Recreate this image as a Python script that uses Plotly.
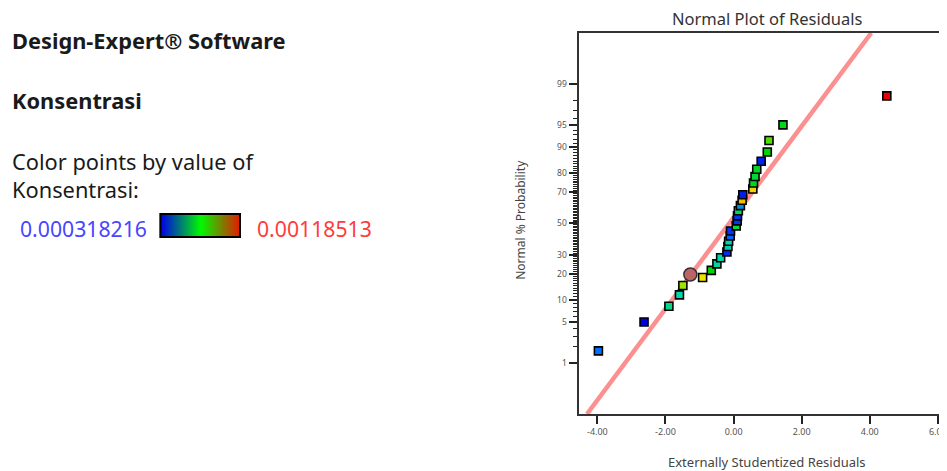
import plotly.graph_objects as go
from statistics import NormalDist

nd = NormalDist()

# ---- data ----
residuals = [-3.97, -2.63, -1.90, -1.59, -1.49, -0.91, -0.655, -0.49, -0.38, -0.196,
             -0.167, -0.146, -0.10, -0.09, 0.076, 0.105, 0.115, 0.14, 0.20, 0.25,
             0.27, 0.565, 0.585, 0.63, 0.68, 0.81, 0.99, 1.04, 1.45, 4.50]
probability = [1.67, 5.0, 8.33, 11.67, 15.0, 18.33, 21.67, 25.0, 28.33, 31.67,
               35.0, 38.33, 41.67, 45.0, 48.33, 51.67, 55.0, 58.33, 61.67, 65.0,
               68.33, 71.67, 75.0, 78.33, 81.67, 85.0, 88.33, 91.67, 95.0, 98.33]
konsentrasi = [0.000492, 0.000318, 0.000648, 0.000622, 0.000890, 0.000968, 0.000752, 0.000630,
               0.000622, 0.000388, 0.000604, 0.000622, 0.000474, 0.000405, 0.000708, 0.000405,
               0.000405, 0.000682, 0.000535, 0.001029, 0.000362, 0.000994, 0.000726, 0.000708,
               0.000726, 0.000370, 0.000752, 0.000821, 0.000734, 0.001185]
k_min, k_max = 0.000318216, 0.00118513

selected_residual = [-1.27]
selected_probability = [19.7]

line_mean, line_sd = -0.13, 1.313   # normal line x = mean + sd * z

x_ticks = [-4, -2, 0, 2, 4, 6]
x_ticktext = ["-4.00", "-2.00", "0.00", "2.00", "4.00", "6.00"]
y_major = [1, 5, 10, 20, 30, 50, 70, 80, 90, 95, 99]
y_minor = [p for p in range(1, 100) if p not in y_major]

# ---- layout geometry (page body has an 8px margin) ----
OFF = 8
W, H = 947 - OFF, 471 - OFF
TOP, BOT, LEFT = 33 - OFF, 414 - OFF, 581 - OFF
PH = BOT - TOP
z_lo, z_hi = -3.18, 3.177
x_lo, x_hi = -4.553, 6.15

def z(p):
    return nd.inv_cdf(p / 100.0)

def px(pix):
    return (pix - OFF) / W

def py(pix):
    return (BOT - (pix - OFF)) / PH

point_scale = [[0.0, "rgb(0,0,225)"], [0.2, "rgb(0,110,255)"], [0.35, "rgb(0,215,170)"],
               [0.5, "rgb(0,215,0)"], [0.65, "rgb(150,230,0)"], [0.75, "rgb(235,230,0)"],
               [0.85, "rgb(245,170,0)"], [1.0, "rgb(235,0,0)"]]
bar_scale = [[0.0, "rgb(0,0,235)"], [0.5, "rgb(0,250,0)"], [1.0, "rgb(235,20,0)"]]

fig = go.Figure()

# normal line
fig.add_trace(go.Scatter(
    x=[line_mean + line_sd * z_lo, line_mean + line_sd * z_hi], y=[z_lo, z_hi],
    mode="lines", line=dict(color="rgba(252,125,125,0.85)", width=4.5),
    hoverinfo="skip", showlegend=False))

# residual points
fig.add_trace(go.Scatter(
    x=residuals, y=[z(p) for p in probability], mode="markers",
    marker=dict(symbol="square", size=8, color=konsentrasi, colorscale=point_scale,
                cmin=k_min, cmax=k_max, line=dict(color="black", width=1.6)),
    showlegend=False))

# selected (circled) point
fig.add_trace(go.Scatter(
    x=selected_residual, y=[z(p) for p in selected_probability], mode="markers",
    marker=dict(symbol="circle", size=13, color="rgb(190,100,100)",
                line=dict(color="#333", width=1.5)),
    showlegend=False))

# colour bar legend
fig.add_trace(go.Heatmap(
    z=[[0, 0.5, 1]], x=[0, 0.5, 1], y=[0], zsmooth="best", colorscale=bar_scale,
    zmin=0, zmax=1, showscale=False, xaxis="x2", yaxis="y2", hoverinfo="skip"))

fig.update_layout(
    width=W, height=H, margin=dict(l=0, r=0, t=TOP, b=H - BOT),
    paper_bgcolor="white", plot_bgcolor="white",
    font=dict(family="Noto Sans", color="#333"),
    xaxis=dict(domain=[LEFT / W, 1], range=[x_lo, x_hi], tickvals=x_ticks, ticktext=x_ticktext,
               ticks="outside", ticklen=8, tickwidth=2, tickcolor="#222",
               ticklabeloverflow="allow",
               showline=True, linecolor="#333", linewidth=2, mirror=True,
               showgrid=False, zeroline=False, tickfont=dict(size=9, color="#555")),
    yaxis=dict(domain=[0, 1], range=[z_lo, z_hi], tickvals=[z(p) for p in y_major],
               ticktext=[str(p) for p in y_major],
               ticks="outside", ticklen=8, tickwidth=2, tickcolor="#222",
               minor=dict(tickvals=[z(p) for p in y_minor], ticks="outside", ticklen=4,
                          tickwidth=1, tickcolor="#222", showgrid=False),
               showline=True, linecolor="#333", linewidth=2, mirror=False,
               showgrid=False, zeroline=False, tickfont=dict(size=8.5, color="#555")),
    xaxis2=dict(domain=[px(161), px(241)], range=[0, 1], visible=False, anchor="y2"),
    yaxis2=dict(domain=[py(237), py(214)], range=[-0.5, 0.5], visible=False, anchor="x2"),
)

fig.add_shape(type="rect", xref="paper", yref="paper", x0=px(161), x1=px(241),
              y0=py(237), y1=py(214), line=dict(color="black", width=2))

def note(text, x, y, size, color="#1a1a1a", bold=False, xanchor="left", angle=0):
    fig.add_annotation(text=("<b>%s</b>" % text) if bold else text, xref="paper", yref="paper",
                       x=px(x), y=py(y), xanchor=xanchor, yanchor="middle", showarrow=False,
                       textangle=angle,
                       font=dict(family="Noto Sans", size=size, color=color))

note("Design-Expert® Software", 10, 40, 21.8, bold=True)
note("Konsentrasi", 10, 100, 21.8, bold=True)
note("Color points by value of", 10, 161, 21.8)
note("Konsentrasi:", 10, 189, 21.8)
note("0.000318216", 18, 228, 21.2, color="rgb(70,70,255)")
note("0.00118513", 256, 228, 21.2, color="rgb(255,60,60)")
note("Normal Plot of Residuals", 771, 18, 16.5, color="#333", xanchor="center")
note("Externally Studentized Residuals", 770, 462, 13, color="#444", xanchor="center")
note("Normal % Probability", 522, 220, 12, color="#444", xanchor="center", angle=-90)

fig.write_html("out.html")
